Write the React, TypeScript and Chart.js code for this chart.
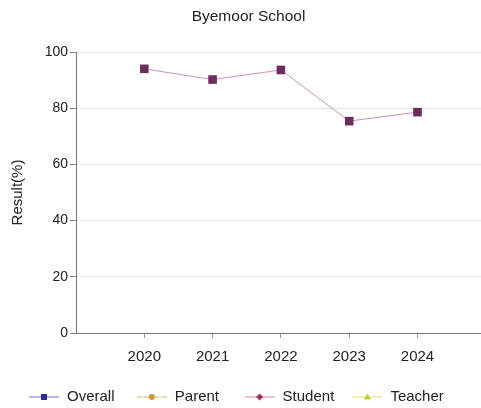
import React, { useEffect, useRef } from "react";
import { Chart, registerables } from "chart.js";

Chart.register(...registerables);

const TITLE = "Byemoor School";
const Y_TITLE = "Result(%)";
const YEARS = [2020, 2021, 2022, 2023, 2024];
const OVERALL = [94, 90.2, 93.6, 75.4, 78.6];
const PARENT: (number | null)[] = [null, null, null, null, null];
const STUDENT = [94, 90.2, 93.6, 75.4, 78.6];
const TEACHER: (number | null)[] = [null, null, null, null, null];
const SERIES_NAMES = ["Overall", "Parent", "Student", "Teacher"];
const Y_TICKS = [0, 20, 40, 60, 80, 100];

const FONT = "'Liberation Sans', Arial, sans-serif";

type Marker = "rect" | "circle" | "rectRot" | "triangle";

function makeIcon(line: string, fill: string, marker: Marker): HTMLCanvasElement {
  const c = document.createElement("canvas");
  c.width = 30;
  c.height = 12;
  const ctx = c.getContext("2d")!;
  ctx.strokeStyle = line;
  ctx.lineWidth = 1.2;
  ctx.beginPath();
  ctx.moveTo(0, 6);
  ctx.lineTo(30, 6);
  ctx.stroke();
  ctx.fillStyle = fill;
  ctx.beginPath();
  if (marker === "rect") ctx.rect(12, 3, 6, 6);
  else if (marker === "circle") ctx.arc(15, 6, 3, 0, Math.PI * 2);
  else if (marker === "rectRot") {
    ctx.moveTo(15, 2.5); ctx.lineTo(18.5, 6); ctx.lineTo(15, 9.5); ctx.lineTo(11.5, 6); ctx.closePath();
  } else {
    ctx.moveTo(15, 2.5); ctx.lineTo(18.5, 8.5); ctx.lineTo(11.5, 8.5); ctx.closePath();
  }
  ctx.fill();
  return c;
}

export default function App() {
  const ref = useRef<HTMLCanvasElement>(null);
  useEffect(() => {
    if (!ref.current) return;
    const icons = [
      makeIcon("#8a8ae0", "#2a2a9c", "rect"),
      makeIcon("#e2c48a", "#c8963a", "circle"),
      makeIcon("#e497a8", "#a52a4a", "rectRot"),
      makeIcon("#e4e48a", "#c8c828", "triangle"),
    ];
    const fixedLegend = {
      id: "fixedLegend",
      afterDraw(ch: any) {
        const ctx = ch.ctx as CanvasRenderingContext2D;
        ctx.save();
        ctx.font = `15px ${FONT}`;
        ctx.fillStyle = "#222";
        ctx.textBaseline = "middle";
        ctx.textAlign = "left";
        const y = 397;
        ch.data.datasets.forEach((ds: any, i: number) => {
          const x = 29 + i * 107.8;
          ctx.drawImage(icons[i], x, y - 6);
          ctx.fillText(ds.label, x + 38, y);
        });
        ctx.restore();
      },
    };
    const pts = (arr: (number | null)[]) => YEARS.map((x, i) => ({ x, y: arr[i] }));
    const chart = new Chart(ref.current, {
      type: "line",
      data: {
        datasets: [
          {
            label: SERIES_NAMES[0],
            data: pts(OVERALL) as any,
            borderColor: "rgba(100,100,220,0.2)",
            borderWidth: 1,
            pointStyle: "rect",
            pointRadius: 6,
            pointBackgroundColor: "rgba(40,40,160,0.35)",
            pointBorderWidth: 0,
          },
          {
            label: SERIES_NAMES[1],
            data: pts(PARENT) as any,
            borderColor: "#e2c48a",
            borderWidth: 1,
            pointStyle: "circle",
            pointBackgroundColor: "#c8963a",
          },
          {
            label: SERIES_NAMES[2],
            data: pts(STUDENT) as any,
            borderColor: "rgb(225,165,190)",
            borderWidth: 1,
            pointStyle: "rect",
            pointRadius: 6,
            pointBackgroundColor: "#8f3037",
            pointBorderWidth: 0,
          },
          {
            label: SERIES_NAMES[3],
            data: pts(TEACHER) as any,
            borderColor: "#e4e48a",
            borderWidth: 1,
            pointStyle: "triangle",
            pointBackgroundColor: "#c8c828",
          },
        ],
      },
      options: {
        animation: false,
        responsive: false,
        layout: { padding: { left: 10, right: 0, top: 0, bottom: 41.5 } },
        plugins: {
          tooltip: { enabled: false },
          legend: { display: false },
          title: {
            display: true,
            text: TITLE,
            color: "#222",
            font: { family: FONT, size: 15.5, weight: "normal" },
            padding: { top: 7.7, bottom: 25.7 },
          },
        },
        scales: {
          x: {
            type: "linear",
            min: 2019,
            max: 2024.93,
            afterBuildTicks: (s: any) => {
              s.ticks = YEARS.map((v) => ({ value: v }));
            },
            afterFit: (s: any) => {
              s.height = 33.5;
            },
            ticks: {
              color: "#222",
              font: { family: FONT, size: 15 },
              padding: 10,
              maxRotation: 0,
              callback: (v: any) => String(v),
            },
            grid: { drawOnChartArea: false, tickLength: 5, tickColor: "#999" },
            border: { color: "#777" },
          },
          y: {
            min: 0,
            max: 100,
            afterBuildTicks: (s: any) => {
              s.ticks = Y_TICKS.map((v) => ({ value: v }));
            },
            afterFit: (s: any) => {
              s.width = 66;
            },
            title: {
              display: true,
              text: Y_TITLE,
              color: "#222",
              font: { family: FONT, size: 15 },
              padding: { top: -1, bottom: 0 },
            },
            ticks: {
              color: "#222",
              font: { family: FONT, size: 14 },
              padding: 2,
            },
            grid: { color: "#e6e6e6", tickLength: 6, tickColor: "#888" },
            border: { color: "#777" },
          },
        },
      },
      plugins: [fixedLegend],
    });
    return () => chart.destroy();
  }, []);
  return (
    <div style={{ position: "absolute", left: 0, top: 0, width: 481, height: 408, overflow: "hidden", background: "#fff" }}>
      <canvas ref={ref} width={487} height={408} />
    </div>
  );
}
